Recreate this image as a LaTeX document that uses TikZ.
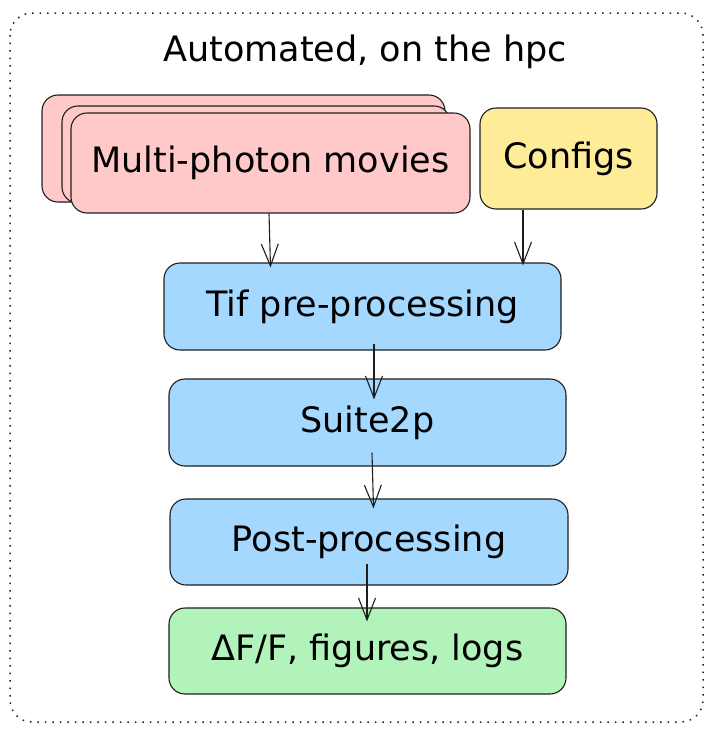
\documentclass[tikz,border=0pt]{standalone}
\usepackage{fontspec}
\setmainfont{DejaVu Sans}
\usepackage{tikz}
\usetikzlibrary{arrows.meta}
\definecolor{ink}{HTML}{1E1E1E}
\definecolor{movfill}{HTML}{FFC9C9}
\definecolor{cfgfill}{HTML}{FFEC99}
\definecolor{stepfill}{HTML}{A5D8FF}
\definecolor{outfill}{HTML}{B2F2BB}

\begin{document}
\begin{tikzpicture}[x=1pt,y=-1pt,
	box/.style={draw=ink,line width=1.1pt,rounded corners=16pt,inner sep=0pt,font=\fontsize{35}{40}\selectfont},
	flow/.style={ink,line width=1.1pt,-{Straight Barb[length=22pt,width=17pt,line width=1.1pt]}}]
				\useasboundingbox (0,0) rectangle (713,734);
				\draw[ink,line width=1.5pt,dash pattern=on 1.5pt off 6pt,rounded corners=22pt] (10,13) rectangle (703,722);
				\node[font=\fontsize{35}{40}\selectfont] (title) at (365,52) {Automated, on the hpc};
				\node[box,fill=movfill,minimum width=403pt,minimum height=107pt] (back) at (243.5,148.5) {};
				\node[box,fill=movfill,minimum width=388pt,minimum height=97pt] (mid) at (256,154.5) {};
				\node[box,fill=movfill,minimum width=399pt,minimum height=100pt] (movies) at (270.5,163) {Multi-photon movies};
				\node[box,fill=cfgfill,minimum width=177pt,minimum height=101pt] (configs) at (568.5,158.5) {Configs};
				\node[box,fill=stepfill,minimum width=397pt,minimum height=87pt] (tif) at (362.5,306.5) {Tif pre-processing};
				\node[box,fill=stepfill,minimum width=397pt,minimum height=87pt] (suite) at (367.5,422.5) {Suite2p};
				\node[box,fill=stepfill,minimum width=398pt,minimum height=86pt] (post) at (369,542) {Post-processing};
				\node[box,fill=outfill,minimum width=397pt,minimum height=86pt] (out) at (367.5,651) {ΔF/F, figures, logs};
				\path[flow]
				([xshift=-1.5pt]movies.south) edge ([yshift=-5pt]movies.south |- tif.north)
				([xshift=-45.5pt]configs.south) edge ([xshift=-45.5pt,yshift=-3pt]configs.south |- tif.north);
				\path[flow]
				([xshift=11.5pt,yshift=7pt]tif.south) edge ([xshift=6.5pt,yshift=-21pt]suite.north)
				([xshift=4.5pt,yshift=14pt]suite.south) edge ([xshift=4.5pt,yshift=-10pt]post.north)
				([xshift=-2pt,yshift=22pt]post.south) edge ([xshift=-0.5pt,yshift=-14pt]out.north);
			\end{tikzpicture}
\end{document}
